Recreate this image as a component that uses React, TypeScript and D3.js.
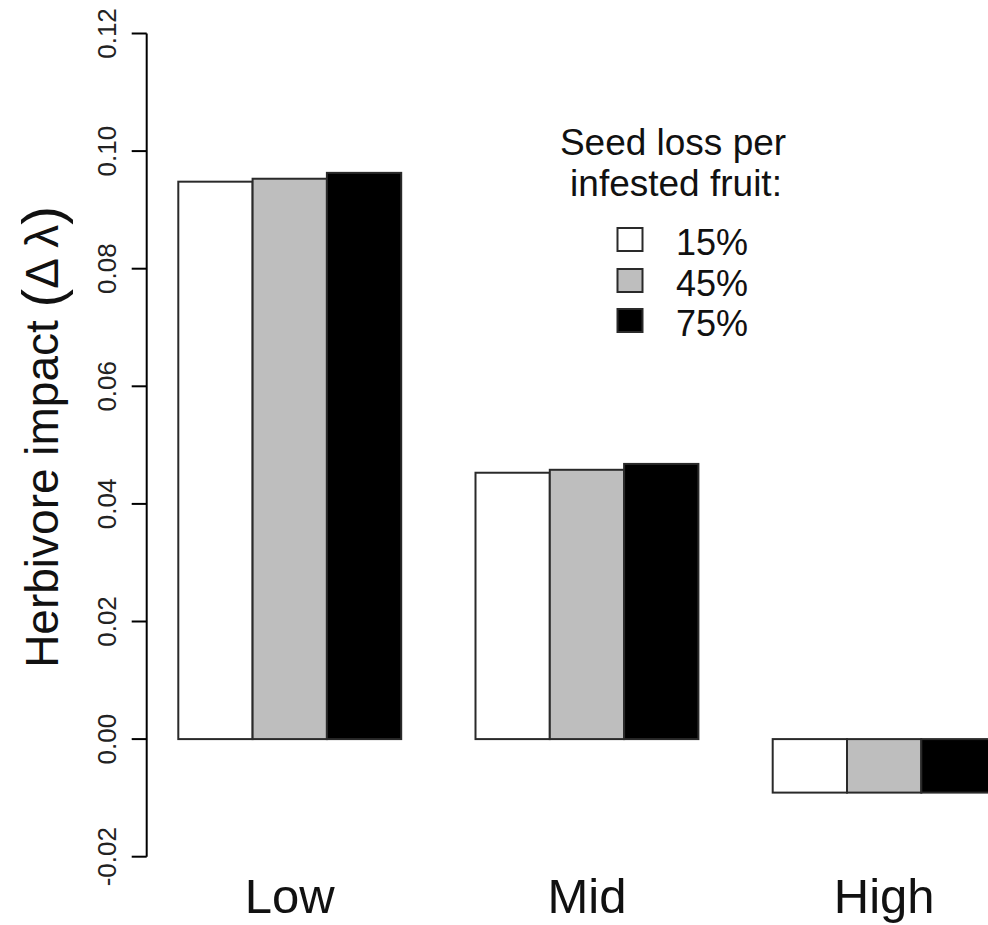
import React from "react";
import * as d3 from "d3";

const categories = ["Low", "Mid", "High"];
const seriesLabels = ["15%", "45%", "75%"];
const seriesFills = ["#ffffff", "#bebebe", "#000000"];
const values15 = [0.0948, 0.0453, -0.0091];
const values45 = [0.0953, 0.0458, -0.0091];
const values75 = [0.0963, 0.0468, -0.0091];
const yTicks = [-0.02, 0, 0.02, 0.04, 0.06, 0.08, 0.1, 0.12];

const W = 988;
const H = 925;
const FONT = "'Liberation Sans', Arial, Helvetica, sans-serif";

export default function App() {
  const series = [values15, values45, values75];
  const y = d3.scaleLinear().domain([-0.02, 0.12]).range([856.7, 33.5]);
  const x = d3.scaleLinear().domain([0, 1]).range([178.3, 252.6]);
  const axisX = 146.7;
  const fmt = (t: number) => d3.format(".2f")(t).replace("\u2212", "-");

  const bars: { g: number; s: number; v: number }[] = [];
  categories.forEach((_, g) => {
    series.forEach((vals, s) => bars.push({ g, s, v: vals[g] }));
  });

  const legendRows = [255, 296, 336];

  return (
    <svg
      width={W}
      height={H}
      style={{ position: "absolute", left: 0, top: 0, background: "#fff" }}
      fontFamily={FONT}
    >
      <rect x={0} y={0} width={W} height={H} fill="#fff" />
      {bars.map((b, i) => {
        const x0 = x(b.g * 4 + b.s);
        const x1 = x(b.g * 4 + b.s + 1);
        const yTop = y(Math.max(0, b.v));
        const yBot = y(Math.min(0, b.v));
        return (
          <rect
            key={i}
            x={x0}
            y={yTop}
            width={x1 - x0}
            height={yBot - yTop}
            fill={seriesFills[b.s]}
            stroke="#2a2a2a"
            strokeWidth={2}
          />
        );
      })}
      <line x1={axisX} x2={axisX} y1={y(-0.02)} y2={y(0.12)} stroke="#000" strokeWidth={2} />
      {yTicks.map((t) => (
        <g key={t}>
          <line x1={131.7} x2={axisX} y1={y(t)} y2={y(t)} stroke="#000" strokeWidth={2} />
          <text
            transform={`translate(116,${y(t)}) rotate(-90)`}
            textAnchor="middle"
            fontSize={26}
            fill="#222"
          >
            {fmt(t)}
          </text>
        </g>
      ))}
      <text
        transform={`translate(58,437) rotate(-90)`}
        textAnchor="middle"
        fontSize={46}
        fill="#111"
      >
        Herbivore impact <tspan fontSize={56} dy={3}>(</tspan>
        <tspan dy={-3}>Δ λ</tspan>
        <tspan fontSize={56} dy={3}>)</tspan>
      </text>
      {categories.map((c, g) => (
        <text key={c} x={x(g * 4 + 1.5)} y={912.7} textAnchor="middle" fontSize={49} fill="#111">
          {c}
        </text>
      ))}
      <text x={673} y={155} textAnchor="middle" fontSize={37} fill="#111">
        Seed loss per
      </text>
      <text x={676} y={196} textAnchor="middle" fontSize={37} fill="#111">
        infested fruit:
      </text>
      {seriesLabels.map((l, i) => (
        <g key={l}>
          <rect
            x={617.5}
            y={legendRows[i] - 27}
            width={25}
            height={23}
            fill={seriesFills[i]}
            stroke="#2a2a2a"
            strokeWidth={2}
          />
          <text x={676} y={legendRows[i]} fontSize={36} fill="#111">
            {l}
          </text>
        </g>
      ))}
    </svg>
  );
}
